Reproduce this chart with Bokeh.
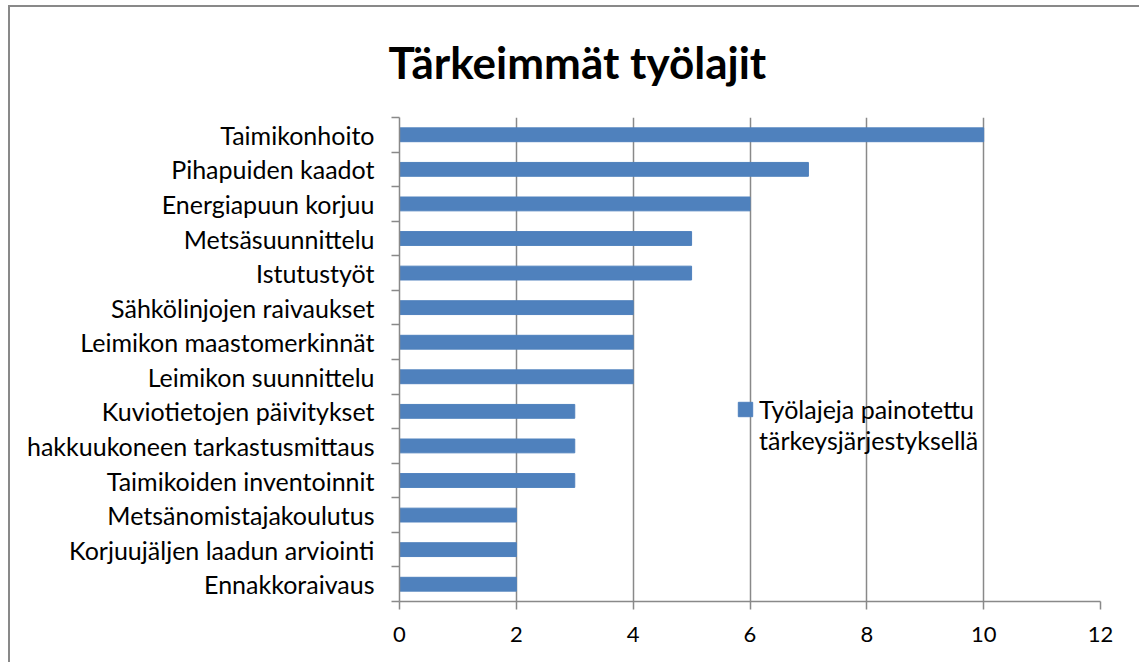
from bokeh.plotting import figure
from bokeh.models import (ColumnDataSource, FixedTicker, Range1d, Legend, LegendItem, Title)
from bokeh.embed import file_html
from bokeh.resources import INLINE

categories = ["Taimikonhoito", "Pihapuiden kaadot", "Energiapuun korjuu", "Metsäsuunnittelu",
              "Istutustyöt", "Sähkölinjojen raivaukset", "Leimikon maastomerkinnät",
              "Leimikon suunnittelu", "Kuviotietojen päivitykset", "hakkuukoneen tarkastusmittaus",
              "Taimikoiden inventoinnit", "Metsänomistajakoulutus", "Korjuujäljen laadun arviointi",
              "Ennakkoraivaus"]
values = [10, 7, 6, 5, 5, 4, 4, 4, 3, 3, 3, 2, 2, 2]
x_ticks = [0, 2, 4, 6, 8, 10, 12]
series_lines = ["Työlajeja painotettu", "tärkeysjärjestyksellä"]
title_text = "Tärkeimmät työlajit"

FONT = "Lato"
GRAY = "#898989"
BLUE = "#4F81BD"

n = len(categories)
ypos = [n - i - 0.5 for i in range(n)]
source = ColumnDataSource(dict(y=ypos, right=values, cat=categories))

p = figure(width=1131, height=657, output_backend="svg", toolbar_location=None,
           x_range=Range1d(0, 12), y_range=Range1d(0, n),
           min_border_left=389, min_border_right=41, min_border_top=110, min_border_bottom=63)
p.styles = {"border-left": f"2px solid {GRAY}", "border-top": f"2px solid {GRAY}",
            "margin-left": "8px", "margin-top": "5px"}
p.outline_line_color = None
p.background_fill_color = "white"
p.border_fill_color = "white"

r = p.hbar(y="y", right="right", left=0, height=0.4, source=source,
           fill_color=BLUE, line_color=BLUE, line_width=1)
# empty, invisible renderer used only for the second legend line
r2 = p.hbar(y=[], right=[], left=0, height=0.4, fill_alpha=0, line_alpha=0)

# x axis
xa = p.xaxis[0]
xa.ticker = FixedTicker(ticks=x_ticks, minor_ticks=[])
xa.axis_line_color = GRAY
xa.axis_line_width = 1.5
xa.major_tick_line_color = GRAY
xa.major_tick_line_width = 1.5
xa.major_tick_in = 0
xa.major_tick_out = 8
xa.minor_tick_line_color = None
xa.major_label_text_font = FONT
xa.major_label_text_font_size = "22px"
xa.major_label_text_color = "black"
xa.major_label_standoff = 17

# y axis: labels at category centres, ticks at boundaries
ya = p.yaxis[0]
ya.ticker = FixedTicker(ticks=ypos, minor_ticks=list(range(n + 1)))
ya.major_label_overrides = {y: c for y, c in zip(ypos, categories)}
ya.axis_line_color = GRAY
ya.axis_line_width = 1.5
ya.major_tick_line_color = None
ya.major_tick_in = 0
ya.major_tick_out = 0
ya.minor_tick_line_color = GRAY
ya.minor_tick_line_width = 1.5
ya.minor_tick_in = 0
ya.minor_tick_out = 8
ya.major_label_text_font = FONT
ya.major_label_text_font_size = "25px"
ya.major_label_text_color = "black"
ya.major_label_standoff = 17

p.xgrid.ticker = FixedTicker(ticks=x_ticks)
p.xgrid.grid_line_color = GRAY
p.xgrid.grid_line_width = 1.5
p.ygrid.grid_line_color = None

t = Title(text=title_text, align="left", offset=-11, vertical_align="top",
          text_font=FONT, text_font_style="bold",
          text_font_size="44px", text_color="black", standoff=56)
p.add_layout(t, "above")

legend = Legend(items=[LegendItem(label=series_lines[0], renderers=[r]),
                       LegendItem(label=series_lines[1], renderers=[r2])],
                location=(337, 146), orientation="vertical",
                glyph_width=18, glyph_height=18, padding=0, margin=0, spacing=1,
                label_standoff=5, label_text_font=FONT, label_text_font_size="25px",
                label_text_color="black",
                border_line_color=None, background_fill_alpha=0)
p.add_layout(legend, "center")

open("out.html", "w").write(file_html(p, INLINE))
